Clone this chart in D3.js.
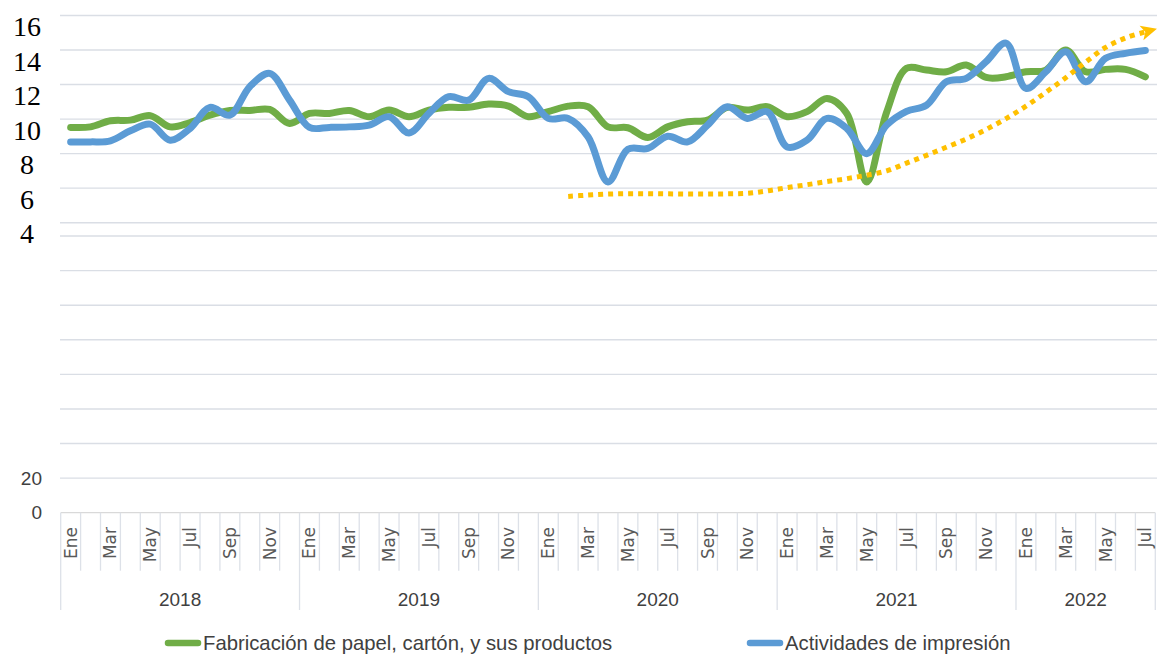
<!DOCTYPE html>
<html>
<head>
<meta charset="utf-8">
<script src="https://cdn.jsdelivr.net/npm/d3@7"></script>
<style>
  body { margin: 0; background: #fff; }
  svg { display: block; }
</style>
</head>
<body>
<svg id="chart" width="1162" height="656"></svg>
<script>
// data
var years = [2018, 2019, 2020, 2021, 2022];
var monthNames = ["Ene", "Feb", "Mar", "Abr", "May", "Jun", "Jul", "Ago", "Sep", "Oct", "Nov", "Dic"];
var lastYearMonths = 7;

var papel = [9.52, 9.55, 9.9, 9.94, 10.2, 9.55, 9.8, 10.23, 10.5, 10.5, 10.56, 9.75, 10.33, 10.33,
  10.5, 10.14, 10.52, 10.14, 10.52, 10.68, 10.68, 10.87, 10.75, 10.14, 10.43, 10.75, 10.72, 9.55,
  9.5, 8.94, 9.55, 9.85, 9.94, 10.68, 10.52, 10.72, 10.14, 10.43, 11.2, 10.33, 6.36, 10.4,
  12.94, 12.84, 12.74, 13.13, 12.41, 12.45, 12.74, 12.84, 14.0, 12.74, 12.88, 12.88, 12.45];

var impresion = [8.68, 8.68, 8.74, 9.32, 9.71, 8.78, 9.46, 10.68, 10.23, 11.88, 12.65, 11.1, 9.52, 9.52,
  9.55, 9.65, 10.14, 9.2, 10.33, 11.3, 11.1, 12.36, 11.59, 11.3, 10.04, 10.04, 8.97, 6.36,
  8.25, 8.3, 9.01, 8.68, 9.65, 10.72, 10.04, 10.43, 8.39, 8.78, 10.04, 9.46, 8.0, 9.65,
  10.45, 10.8, 12.16, 12.36, 13.33, 14.4, 11.78, 12.74, 13.9, 12.16, 13.52, 13.81, 13.97];

// trend line, starts at Feb 2020
var trendStart = 25;
var tendencia = [5.52, 5.6, 5.66, 5.68, 5.68, 5.67, 5.66, 5.66, 5.67, 5.7, 5.84, 6.03, 6.2, 6.38, 6.55,
  6.75, 7.0, 7.45, 7.9, 8.37, 8.85, 9.4, 10.03, 10.75, 11.55, 12.4, 13.3, 14.15, 14.7, 15.05];

var topTicks = [4, 6, 8, 10, 12, 14, 16];
var bottomTicks = [20, 40, 60, 80, 100, 120, 140, 160];
var bottomLabels = [0, 20];

var seriesNames = ["Fabricación de papel, cartón, y sus productos", "Actividades de impresión"];
var colors = ["#70ad47", "#5b9bd5"];
var trendColor = "#ffc000";

// categories
var categories = [];
years.forEach(function (y, yi) {
  var n = yi === years.length - 1 ? lastYearMonths : 12;
  for (var m = 0; m < n; m++) categories.push({ key: y + "-" + m, year: y, month: m, label: monthNames[m] });
});

var svg = d3.select("#chart");
var X0 = 60.7, X1 = 1155.3, AXIS_Y = 512.7;

var x = d3.scaleBand().domain(categories.map(function (d) { return d.key; })).range([X0, X1]);
var cx = function (i) { return x(categories[i].key) + x.bandwidth() / 2; };
var yTop = d3.scaleLinear().domain([4, 16]).range([222.7, 15.5]);
var yBot = d3.scaleLinear().domain([0, 160]).range([AXIS_Y, 236]);

var grid = svg.append("g").attr("stroke", "#dadee5").attr("stroke-width", 1.4);
grid.selectAll("line.t").data(topTicks).join("line").attr("class", "t")
  .attr("x1", 60).attr("x2", 1157).attr("y1", yTop).attr("y2", yTop);
grid.selectAll("line.b").data(bottomTicks).join("line").attr("class", "b")
  .attr("x1", 60).attr("x2", 1157).attr("y1", yBot).attr("y2", yBot);

// y labels
svg.append("g").selectAll("text").data(topTicks).join("text")
  .attr("x", 27).attr("y", function (d) { return yTop(d) + 11; })
  .attr("text-anchor", "middle").attr("dominant-baseline", "central")
  .attr("font-family", "Liberation Serif, Times New Roman, serif").attr("font-size", 28)
  .attr("fill", "#000").text(function (d) { return d; });

svg.append("g").selectAll("text").data(bottomLabels).join("text")
  .attr("x", 42).attr("y", function (d) { return yBot(d); })
  .attr("text-anchor", "end").attr("dominant-baseline", "central")
  .attr("font-family", "Liberation Sans, Arial, sans-serif").attr("font-size", 19)
  .attr("fill", "#404040").text(function (d) { return d; });

// x axis
var ax = svg.append("g");
ax.append("line").attr("x1", X0).attr("x2", X1).attr("y1", AXIS_Y).attr("y2", AXIS_Y)
  .attr("stroke", "#d9d9d9").attr("stroke-width", 1.3);
var bounds = d3.range(categories.length + 1);
ax.selectAll("line.tick").data(bounds).join("line").attr("class", "tick")
  .attr("x1", function (i) { return X0 + i * x.step(); })
  .attr("x2", function (i) { return X0 + i * x.step(); })
  .attr("y1", AXIS_Y)
  .attr("y2", function (i) { return (i % 12 === 0 || i === categories.length) ? 610 : 570.7; })
  .attr("stroke", "#dde1e8").attr("stroke-width", 1.3);

ax.selectAll("text.month").data(categories.filter(function (d) { return d.month % 2 === 0; }))
  .join("text").attr("class", "month")
  .attr("transform", function (d) { return "translate(" + (x(d.key) + x.bandwidth() / 2) + ",527) rotate(-90)"; })
  .attr("text-anchor", "end").attr("dominant-baseline", "central")
  .attr("font-family", "DejaVu Sans, Verdana, sans-serif").attr("font-size", 17)
  .attr("fill", "#595959").text(function (d) { return d.label; });

ax.selectAll("text.year").data(years).join("text").attr("class", "year")
  .attr("x", function (y) {
    var c = categories.filter(function (d) { return d.year === y; });
    return (x(c[0].key) + x(c[c.length - 1].key) + x.bandwidth()) / 2;
  })
  .attr("y", 599).attr("text-anchor", "middle").attr("dominant-baseline", "central")
  .attr("font-family", "Liberation Sans, Arial, sans-serif").attr("font-size", 19)
  .attr("fill", "#404040").text(function (d) { return d; });

// series
var line = d3.line()
  .x(function (d, i) { return cx(i); })
  .y(function (d) { return yTop(d); })
  .curve(d3.curveCatmullRom.alpha(0.5));

[papel, impresion].forEach(function (s, k) {
  svg.append("path").datum(s).attr("d", line)
    .attr("fill", "none").attr("stroke", colors[k]).attr("stroke-width", 7)
    .attr("stroke-linejoin", "round").attr("stroke-linecap", "round");
});

// trend line with arrow
svg.append("defs").append("marker").attr("id", "arrow")
  .attr("markerUnits", "userSpaceOnUse").attr("markerWidth", 30).attr("markerHeight", 30)
  .attr("refX", 0).attr("refY", 0).attr("orient", "auto").attr("overflow", "visible")
  .append("path").attr("d", "M12,0 L-4,-7.5 L0,0 L-4,7.5 Z").attr("fill", trendColor);

var trendLine = d3.line()
  .x(function (d, i) { return cx(trendStart + i); })
  .y(function (d) { return yTop(d); })
  .curve(d3.curveCatmullRom.alpha(0.5));

svg.append("path").datum(tendencia).attr("d", trendLine)
  .attr("fill", "none").attr("stroke", trendColor).attr("stroke-width", 5)
  .attr("stroke-dasharray", "5,5").attr("marker-end", "url(#arrow)");

// legend
var legend = svg.append("g");
var legX = [165, 747];
seriesNames.forEach(function (name, k) {
  legend.append("line").attr("x1", legX[k] + 3).attr("x2", legX[k] + 33).attr("y1", 643).attr("y2", 643)
    .attr("stroke", colors[k]).attr("stroke-width", 6.5).attr("stroke-linecap", "round");
  legend.append("text").attr("x", legX[k] + 38).attr("y", 643).attr("dominant-baseline", "central")
    .attr("font-family", "Liberation Sans, Arial, sans-serif").attr("font-size", 20.3)
    .attr("fill", "#404040").text(name);
});
</script>
</body>
</html>
